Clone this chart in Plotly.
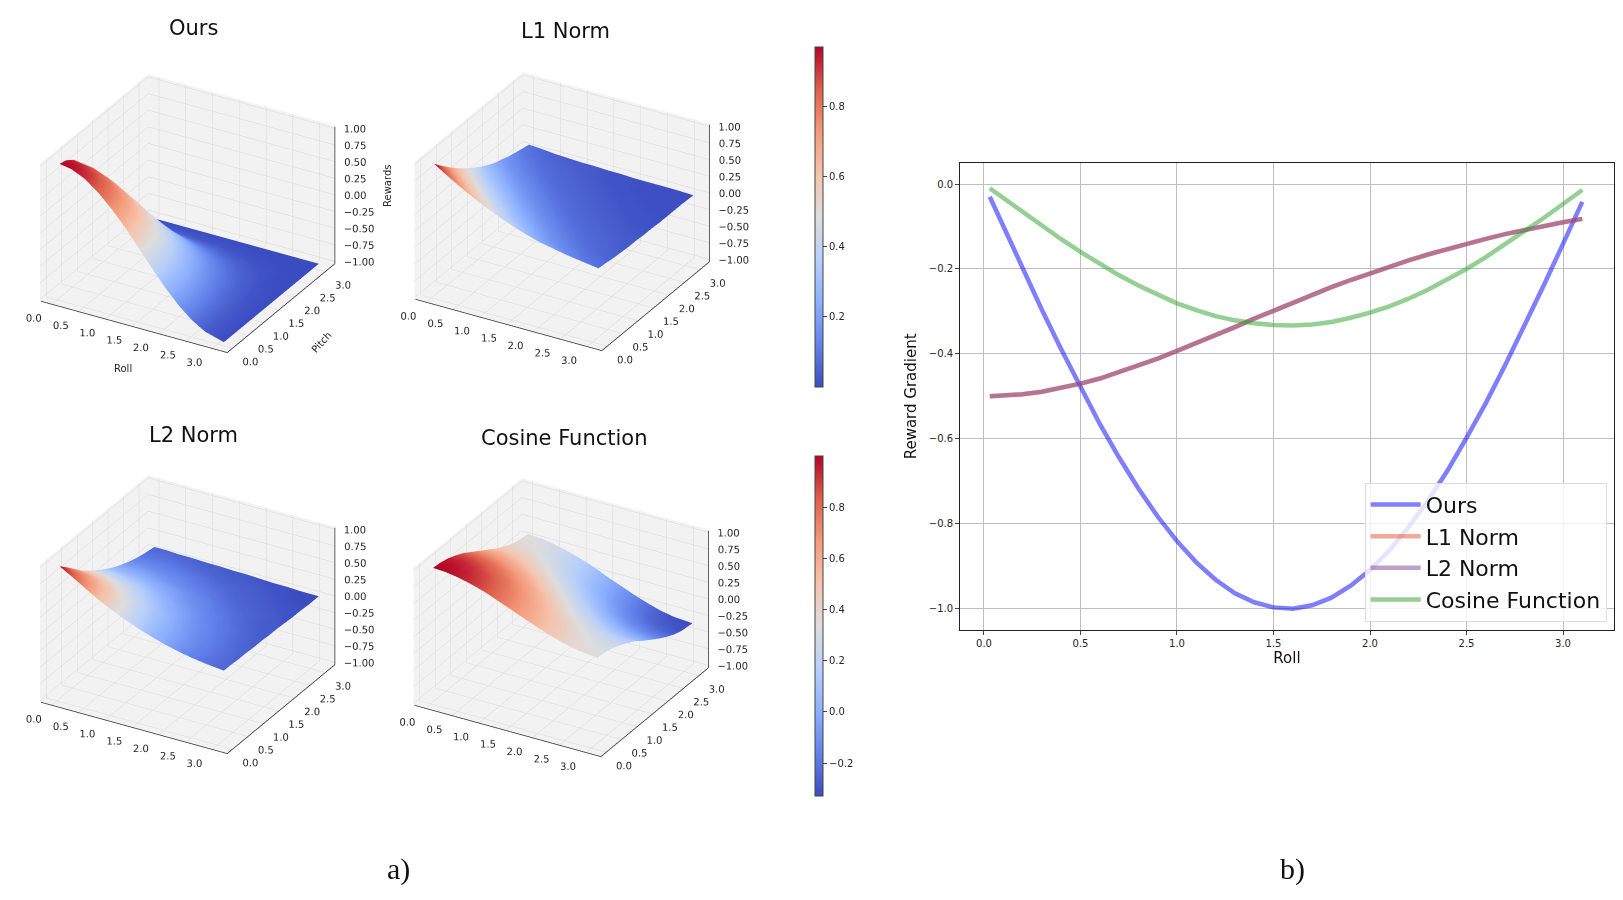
import plotly.graph_objects as go

# ---------------- data: reward surfaces (rows = pitch, cols = roll) ----------------
roll_grid = [0.03, 0.25, 0.5, 0.75, 1.0, 1.25, 1.5, 1.75, 2.0, 2.25, 2.5, 2.75, 3.1]
pitch_grid = [0.03, 0.25, 0.5, 0.75, 1.0, 1.25, 1.5, 1.75, 2.0, 2.25, 2.5, 2.75, 3.1]

z_ours = [
    [1.00, 0.97, 0.88, 0.73, 0.54, 0.32, 0.07, -0.18, -0.42, -0.63, -0.80, -0.92, -1.00],
    [0.97, 0.94, 0.85, 0.71, 0.52, 0.29, 0.05, -0.19, -0.43, -0.63, -0.80, -0.93, -1.00],
    [0.88, 0.85, 0.76, 0.63, 0.45, 0.23, 0.01, -0.23, -0.45, -0.65, -0.81, -0.93, -1.00],
    [0.73, 0.71, 0.63, 0.50, 0.33, 0.14, -0.07, -0.29, -0.49, -0.68, -0.83, -0.93, -1.00],
    [0.54, 0.52, 0.45, 0.33, 0.19, 0.01, -0.18, -0.37, -0.55, -0.71, -0.85, -0.94, -1.00],
    [0.32, 0.29, 0.23, 0.14, 0.01, -0.14, -0.30, -0.46, -0.62, -0.76, -0.87, -0.95, -1.00],
    [0.07, 0.05, 0.01, -0.07, -0.18, -0.30, -0.43, -0.56, -0.69, -0.80, -0.89, -0.96, -1.00],
    [-0.18, -0.19, -0.23, -0.29, -0.37, -0.46, -0.56, -0.66, -0.76, -0.85, -0.92, -0.97, -1.00],
    [-0.42, -0.43, -0.45, -0.49, -0.55, -0.62, -0.69, -0.76, -0.83, -0.89, -0.94, -0.98, -1.00],
    [-0.63, -0.63, -0.65, -0.68, -0.71, -0.76, -0.80, -0.85, -0.89, -0.93, -0.96, -0.99, -1.00],
    [-0.80, -0.80, -0.81, -0.83, -0.85, -0.87, -0.89, -0.92, -0.94, -0.96, -0.98, -0.99, -1.00],
    [-0.92, -0.93, -0.93, -0.93, -0.94, -0.95, -0.96, -0.97, -0.98, -0.99, -0.99, -1.00, -1.00],
    [-1.00, -1.00, -1.00, -1.00, -1.00, -1.00, -1.00, -1.00, -1.00, -1.00, -1.00, -1.00, -1.00],
]

z_l1 = [
    [0.97, 0.86, 0.74, 0.63, 0.53, 0.44, 0.36, 0.29, 0.23, 0.19, 0.15, 0.12, 0.08],
    [0.86, 0.76, 0.64, 0.54, 0.45, 0.36, 0.30, 0.24, 0.19, 0.15, 0.12, 0.09, 0.07],
    [0.74, 0.64, 0.54, 0.45, 0.36, 0.30, 0.24, 0.19, 0.15, 0.12, 0.09, 0.07, 0.05],
    [0.63, 0.54, 0.45, 0.36, 0.30, 0.24, 0.19, 0.15, 0.12, 0.09, 0.07, 0.06, 0.04],
    [0.53, 0.45, 0.36, 0.30, 0.24, 0.19, 0.15, 0.12, 0.09, 0.07, 0.06, 0.05, 0.03],
    [0.44, 0.36, 0.30, 0.24, 0.19, 0.15, 0.12, 0.09, 0.07, 0.06, 0.05, 0.04, 0.03],
    [0.36, 0.30, 0.24, 0.19, 0.15, 0.12, 0.09, 0.07, 0.06, 0.05, 0.04, 0.03, 0.02],
    [0.29, 0.24, 0.19, 0.15, 0.12, 0.09, 0.07, 0.06, 0.05, 0.04, 0.03, 0.02, 0.02],
    [0.23, 0.19, 0.15, 0.12, 0.09, 0.07, 0.06, 0.05, 0.04, 0.03, 0.02, 0.02, 0.01],
    [0.19, 0.15, 0.12, 0.09, 0.07, 0.06, 0.05, 0.04, 0.03, 0.02, 0.02, 0.01, 0.01],
    [0.15, 0.12, 0.09, 0.07, 0.06, 0.05, 0.04, 0.03, 0.02, 0.02, 0.01, 0.01, 0.01],
    [0.12, 0.09, 0.07, 0.06, 0.05, 0.04, 0.03, 0.02, 0.02, 0.01, 0.01, 0.01, 0.01],
    [0.08, 0.07, 0.05, 0.04, 0.03, 0.03, 0.02, 0.02, 0.01, 0.01, 0.01, 0.01, 0.00],
]

z_l2 = [
    [0.98, 0.88, 0.76, 0.64, 0.54, 0.45, 0.37, 0.30, 0.24, 0.19, 0.15, 0.12, 0.09],
    [0.88, 0.82, 0.73, 0.62, 0.53, 0.44, 0.36, 0.29, 0.24, 0.19, 0.15, 0.12, 0.09],
    [0.76, 0.73, 0.66, 0.58, 0.49, 0.41, 0.34, 0.28, 0.23, 0.18, 0.15, 0.12, 0.08],
    [0.64, 0.62, 0.58, 0.51, 0.45, 0.38, 0.32, 0.26, 0.21, 0.17, 0.14, 0.11, 0.08],
    [0.54, 0.53, 0.49, 0.45, 0.39, 0.34, 0.28, 0.24, 0.19, 0.16, 0.13, 0.10, 0.07],
    [0.45, 0.44, 0.41, 0.38, 0.34, 0.29, 0.25, 0.21, 0.17, 0.14, 0.12, 0.09, 0.07],
    [0.37, 0.36, 0.34, 0.32, 0.28, 0.25, 0.21, 0.18, 0.15, 0.13, 0.10, 0.08, 0.06],
    [0.30, 0.29, 0.28, 0.26, 0.24, 0.21, 0.18, 0.16, 0.13, 0.11, 0.09, 0.07, 0.06],
    [0.24, 0.24, 0.23, 0.21, 0.19, 0.17, 0.15, 0.13, 0.11, 0.09, 0.08, 0.07, 0.05],
    [0.19, 0.19, 0.18, 0.17, 0.16, 0.14, 0.13, 0.11, 0.09, 0.08, 0.07, 0.06, 0.04],
    [0.15, 0.15, 0.15, 0.14, 0.13, 0.12, 0.10, 0.09, 0.08, 0.07, 0.06, 0.05, 0.04],
    [0.12, 0.12, 0.12, 0.11, 0.10, 0.09, 0.08, 0.07, 0.07, 0.06, 0.05, 0.04, 0.03],
    [0.09, 0.09, 0.08, 0.08, 0.07, 0.07, 0.06, 0.06, 0.05, 0.04, 0.04, 0.03, 0.03],
]

z_cos = [
    [1.00, 0.99, 0.96, 0.91, 0.85, 0.77, 0.69, 0.61, 0.53, 0.46, 0.40, 0.36, 0.33],
    [0.99, 0.98, 0.95, 0.90, 0.84, 0.76, 0.68, 0.60, 0.52, 0.45, 0.39, 0.35, 0.32],
    [0.96, 0.95, 0.92, 0.87, 0.81, 0.73, 0.65, 0.57, 0.49, 0.42, 0.36, 0.32, 0.29],
    [0.91, 0.90, 0.87, 0.82, 0.76, 0.68, 0.60, 0.52, 0.44, 0.37, 0.31, 0.27, 0.24],
    [0.85, 0.84, 0.81, 0.76, 0.69, 0.62, 0.54, 0.45, 0.37, 0.30, 0.25, 0.21, 0.18],
    [0.77, 0.76, 0.73, 0.68, 0.62, 0.54, 0.46, 0.38, 0.30, 0.23, 0.17, 0.13, 0.11],
    [0.69, 0.68, 0.65, 0.60, 0.54, 0.46, 0.38, 0.30, 0.22, 0.15, 0.09, 0.05, 0.02],
    [0.61, 0.60, 0.57, 0.52, 0.45, 0.38, 0.30, 0.22, 0.14, 0.07, 0.01, -0.03, -0.06],
    [0.53, 0.52, 0.49, 0.44, 0.37, 0.30, 0.22, 0.14, 0.06, -0.01, -0.07, -0.11, -0.14],
    [0.46, 0.45, 0.42, 0.37, 0.30, 0.23, 0.15, 0.07, -0.01, -0.09, -0.14, -0.18, -0.21],
    [0.40, 0.39, 0.36, 0.31, 0.25, 0.17, 0.09, 0.01, -0.07, -0.14, -0.20, -0.24, -0.27],
    [0.36, 0.35, 0.32, 0.27, 0.21, 0.13, 0.05, -0.03, -0.11, -0.18, -0.24, -0.28, -0.31],
    [0.33, 0.32, 0.29, 0.24, 0.18, 0.11, 0.02, -0.06, -0.14, -0.21, -0.27, -0.31, -0.33],
]

surface_titles = ["Ours", "L1 Norm", "L2 Norm", "Cosine Function"]
axis_ticks = [0.0, 0.5, 1.0, 1.5, 2.0, 2.5, 3.0]
z_ticks = [-1.0, -0.75, -0.5, -0.25, 0.0, 0.25, 0.5, 0.75, 1.0]
cbar_top_ticks = [0.2, 0.4, 0.6, 0.8]
cbar_bottom_ticks = [-0.2, 0.0, 0.2, 0.4, 0.6, 0.8]
XY_RANGE = [-0.2, 3.3]
Z_RANGE = [-1.04, 1.04]

# ---------------- data: reward gradient vs roll ----------------
line_roll = [0.03, 0.1, 0.2, 0.3, 0.4, 0.5, 0.6, 0.7, 0.8, 0.9, 1.0, 1.1, 1.2, 1.3, 1.4, 1.5,
             1.6, 1.7, 1.8, 1.9, 2.0, 2.1, 2.2, 2.3, 2.4, 2.5, 2.6, 2.7, 2.8, 2.9, 3.0, 3.1]
grad_ours = [-0.030, -0.100, -0.199, -0.296, -0.389, -0.479, -0.565, -0.644, -0.717, -0.783,
             -0.841, -0.891, -0.932, -0.964, -0.985, -0.997, -1.000, -0.992, -0.974, -0.946,
             -0.909, -0.863, -0.808, -0.746, -0.676, -0.598, -0.516, -0.427, -0.335, -0.239,
             -0.141, -0.042]
grad_l1 = [-0.500, -0.499, -0.495, -0.489, -0.480, -0.470, -0.458, -0.443, -0.428, -0.411,
           -0.393, -0.375, -0.356, -0.337, -0.317, -0.298, -0.280, -0.261, -0.243, -0.226,
           -0.210, -0.194, -0.180, -0.166, -0.153, -0.140, -0.129, -0.118, -0.108, -0.099,
           -0.090, -0.082]
grad_l2 = [-0.500, -0.499, -0.495, -0.489, -0.480, -0.470, -0.458, -0.443, -0.428, -0.411,
           -0.393, -0.375, -0.356, -0.337, -0.317, -0.298, -0.280, -0.261, -0.243, -0.226,
           -0.210, -0.194, -0.180, -0.166, -0.153, -0.140, -0.129, -0.118, -0.108, -0.099,
           -0.090, -0.082]
grad_cos = [-0.010, -0.033, -0.066, -0.099, -0.130, -0.160, -0.188, -0.215, -0.239, -0.261,
            -0.281, -0.297, -0.311, -0.321, -0.328, -0.332, -0.333, -0.331, -0.325, -0.315,
            -0.303, -0.288, -0.270, -0.249, -0.225, -0.200, -0.172, -0.142, -0.112, -0.080,
            -0.047, -0.014]
line_names = ["Ours", "L1 Norm", "L2 Norm", "Cosine Function"]
line_colors = ["rgb(0,0,255)", "rgb(225,85,45)", "rgb(125,65,145)", "rgb(44,160,44)"]
x_ticks2 = [0.0, 0.5, 1.0, 1.5, 2.0, 2.5, 3.0]
y_ticks2 = [-1.0, -0.8, -0.6, -0.4, -0.2, 0.0]

# ---------------- styling ----------------
FONT = "DejaVu Sans"
TXT = "#262626"
coolwarm = [
    [0.0, "rgb(59,76,192)"], [0.125, "rgb(98,130,234)"], [0.25, "rgb(141,176,254)"],
    [0.375, "rgb(184,208,249)"], [0.5, "rgb(221,221,221)"], [0.625, "rgb(245,196,173)"],
    [0.75, "rgb(244,154,123)"], [0.875, "rgb(222,96,77)"], [1.0, "rgb(180,4,38)"],
]
flat_light = dict(ambient=1.0, diffuse=0.0, specular=0.0, roughness=1.0, fresnel=0.0)
NB = "\u00a0"

# anchor planes for axis lines / labels (just inside the scene box)
X_EDGE = XY_RANGE[1] - 0.01
Y_EDGE = XY_RANGE[0] + 0.01
Z_LOW = Z_RANGE[0] + 0.01
Z_TOP = Z_RANGE[1] - 0.01


def fmt(v, d):
    s = f"{v:.{d}f}"
    return s.replace("-", "\u2212") if v < 0 else s


fig = go.Figure()

surfaces = [z_ours, z_l1, z_l2, z_cos]
scene_names = ["scene", "scene2", "scene3", "scene4"]
for i, z in enumerate(surfaces):
    if i == 1:
        kw = dict(showscale=True, colorbar=dict(
            x=0.4972, xanchor="left", xpad=0, ypad=0, y=0.768, yanchor="middle", len=0.378,
            thickness=8, outlinewidth=1, outlinecolor="#444", ticks="outside", ticklen=4,
            tickvals=cbar_top_ticks, tickformat=".1f",
            tickfont=dict(size=10, family=FONT, color=TXT)))
    elif i == 3:
        kw = dict(showscale=True, colorbar=dict(
            x=0.4972, xanchor="left", xpad=0, ypad=0, y=0.313, yanchor="middle", len=0.378,
            thickness=8, outlinewidth=1, outlinecolor="#444", ticks="outside", ticklen=4,
            tickvals=cbar_bottom_ticks, tickformat=".1f",
            tickfont=dict(size=10, family=FONT, color=TXT)))
    else:
        kw = dict(showscale=False)
    fig.add_trace(go.Surface(x=roll_grid, y=pitch_grid, z=z, colorscale=coolwarm,
                             lighting=flat_light, hoverinfo="skip",
                             scene=scene_names[i], **kw))

    # axis lines (matplotlib style: front x edge, right y edge, right-back z edge)
    fig.add_trace(go.Scatter3d(
        x=[Y_EDGE, X_EDGE, None, X_EDGE, X_EDGE, None, X_EDGE, X_EDGE],
        y=[Y_EDGE, Y_EDGE, None, Y_EDGE, X_EDGE, None, X_EDGE, X_EDGE],
        z=[Z_LOW, Z_LOW, None, Z_LOW, Z_LOW, None, Z_LOW, Z_TOP],
        mode="lines", line=dict(color="#333", width=1.5), hoverinfo="skip",
        showlegend=False, scene=scene_names[i]))
    # tick labels (horizontal, as in matplotlib)
    fig.add_trace(go.Scatter3d(
        x=axis_ticks, y=[Y_EDGE] * len(axis_ticks), z=[Z_LOW] * len(axis_ticks),
        mode="text", text=[fmt(t, 1) + NB * 2 for t in axis_ticks],
        textposition="bottom left", textfont=dict(size=10, family=FONT, color=TXT),
        hoverinfo="skip", showlegend=False, scene=scene_names[i]))
    fig.add_trace(go.Scatter3d(
        x=[X_EDGE] * len(axis_ticks), y=axis_ticks, z=[Z_LOW] * len(axis_ticks),
        mode="text", text=[NB * 3 + fmt(t, 1) for t in axis_ticks],
        textposition="bottom right", textfont=dict(size=10, family=FONT, color=TXT),
        hoverinfo="skip", showlegend=False, scene=scene_names[i]))
    fig.add_trace(go.Scatter3d(
        x=[X_EDGE] * len(z_ticks), y=[X_EDGE] * len(z_ticks), z=z_ticks,
        mode="text", text=[(NB * 2 if t < 0 else NB * 4) + fmt(t, 2) for t in z_ticks],
        textposition="middle right", textfont=dict(size=10, family=FONT, color=TXT),
        hoverinfo="skip", showlegend=False, scene=scene_names[i]))

for name, ys, col in zip(line_names, [grad_ours, grad_l1, grad_l2, grad_cos], line_colors):
    fig.add_trace(go.Scatter(x=line_roll, y=ys, mode="lines", name=name, opacity=0.5,
                             line=dict(color=col, width=4.5), xaxis="x", yaxis="y"))


def axis3d(rng, ticks):
    return dict(range=rng, tickvals=ticks, autorange=False, showticklabels=False,
                backgroundcolor="rgb(242,242,242)", showbackground=True,
                gridcolor="rgb(214,214,214)", gridwidth=1, zeroline=False,
                showline=False, showspikes=False, ticks="", title=dict(text=""))


EYE = (0.879, -1.522, 0.954)


def scene_cfg(dx, dy, shift=(0.0, 0.0, 0.0)):
    return dict(
        domain=dict(x=dx, y=dy),
        xaxis=axis3d(XY_RANGE, axis_ticks),
        yaxis=axis3d(XY_RANGE, axis_ticks),
        zaxis=axis3d(Z_RANGE, z_ticks),
        aspectmode="manual", aspectratio=dict(x=1.093, y=1.093, z=0.795),
        camera=dict(eye=dict(x=EYE[0] + shift[0], y=EYE[1] + shift[1], z=EYE[2] + shift[2]),
                    center=dict(x=shift[0], y=shift[1], z=shift[2]),
                    up=dict(x=0, y=0, z=1), projection=dict(type="orthographic")),
        bgcolor="rgba(0,0,0,0)",
    )


LEFT_SHIFT = (0.051, 0.029, 0.0)

fig.update_layout(
    width=1623, height=900,
    paper_bgcolor="white", plot_bgcolor="white",
    margin=dict(l=0, r=0, t=0, b=0),
    font=dict(family=FONT, color=TXT),
    scene=scene_cfg([0.008, 0.228], [0.5515, 0.9915], LEFT_SHIFT),
    scene2=scene_cfg([0.227, 0.457], [0.5535, 0.9935]),
    scene3=scene_cfg([0.008, 0.228], [0.1055, 0.5455], LEFT_SHIFT),
    scene4=scene_cfg([0.226, 0.456], [0.1025, 0.5425]),
    xaxis=dict(domain=[0.5866, 0.9895], range=[-0.124, 3.264], tickvals=x_ticks2,
               tickformat=".1f", showgrid=True, gridcolor="rgb(190,190,190)", gridwidth=1,
               zeroline=False, showline=True, mirror=True, linecolor="#222", linewidth=1,
               ticks="outside", ticklen=4, tickfont=dict(size=10, family=FONT, color=TXT),
               title=dict(text="Roll", font=dict(size=15, family=FONT, color="#111"),
                          standoff=4)),
    yaxis=dict(domain=[0.309, 0.828], range=[-1.05, 0.05], tickvals=y_ticks2,
               tickformat=".1f", showgrid=True, gridcolor="rgb(190,190,190)", gridwidth=1,
               zeroline=False, showline=True, mirror=True, linecolor="#222", linewidth=1,
               ticks="outside", ticklen=4, tickfont=dict(size=10, family=FONT, color=TXT),
               title=dict(text="Reward Gradient", font=dict(size=15, family=FONT, color="#111"),
                          standoff=8)),
    showlegend=True,
    legend=dict(x=0.985, y=0.318, xanchor="right", yanchor="bottom",
                bgcolor="rgba(255,255,255,0.8)", bordercolor="rgb(220,220,220)", borderwidth=1,
                font=dict(size=22, family=FONT, color="#111"), itemwidth=50,
                tracegroupgap=0),
)

titles_pos = [(185, 20), (557, 23), (185, 427), (556, 430)]
for t, (px, py) in zip(surface_titles, titles_pos):
    fig.add_annotation(x=px / 1623, y=1 - py / 900, xref="paper", yref="paper", text=t,
                       showarrow=False, font=dict(size=21, family=FONT, color="#111"),
                       xanchor="center", yanchor="middle")

# axis titles of the first 3D panel
for t, (px, py), ang in zip(["Roll", "Pitch", "Rewards"],
                            [(115, 360), (313, 334), (379, 178)], [0, -48, -90]):
    fig.add_annotation(x=px / 1623, y=1 - py / 900, xref="paper", yref="paper", text=t,
                       showarrow=False, textangle=ang,
                       font=dict(size=10, family=FONT, color=TXT),
                       xanchor="center", yanchor="middle")

for t, (px, py) in zip(["a)", "b)"], [(390, 861), (1284, 861)]):
    fig.add_annotation(x=px / 1623, y=1 - py / 900, xref="paper", yref="paper", text=t,
                       showarrow=False, font=dict(size=30, family="Liberation Serif", color="#111"),
                       xanchor="center", yanchor="middle")

fig.write_html("out.html")
